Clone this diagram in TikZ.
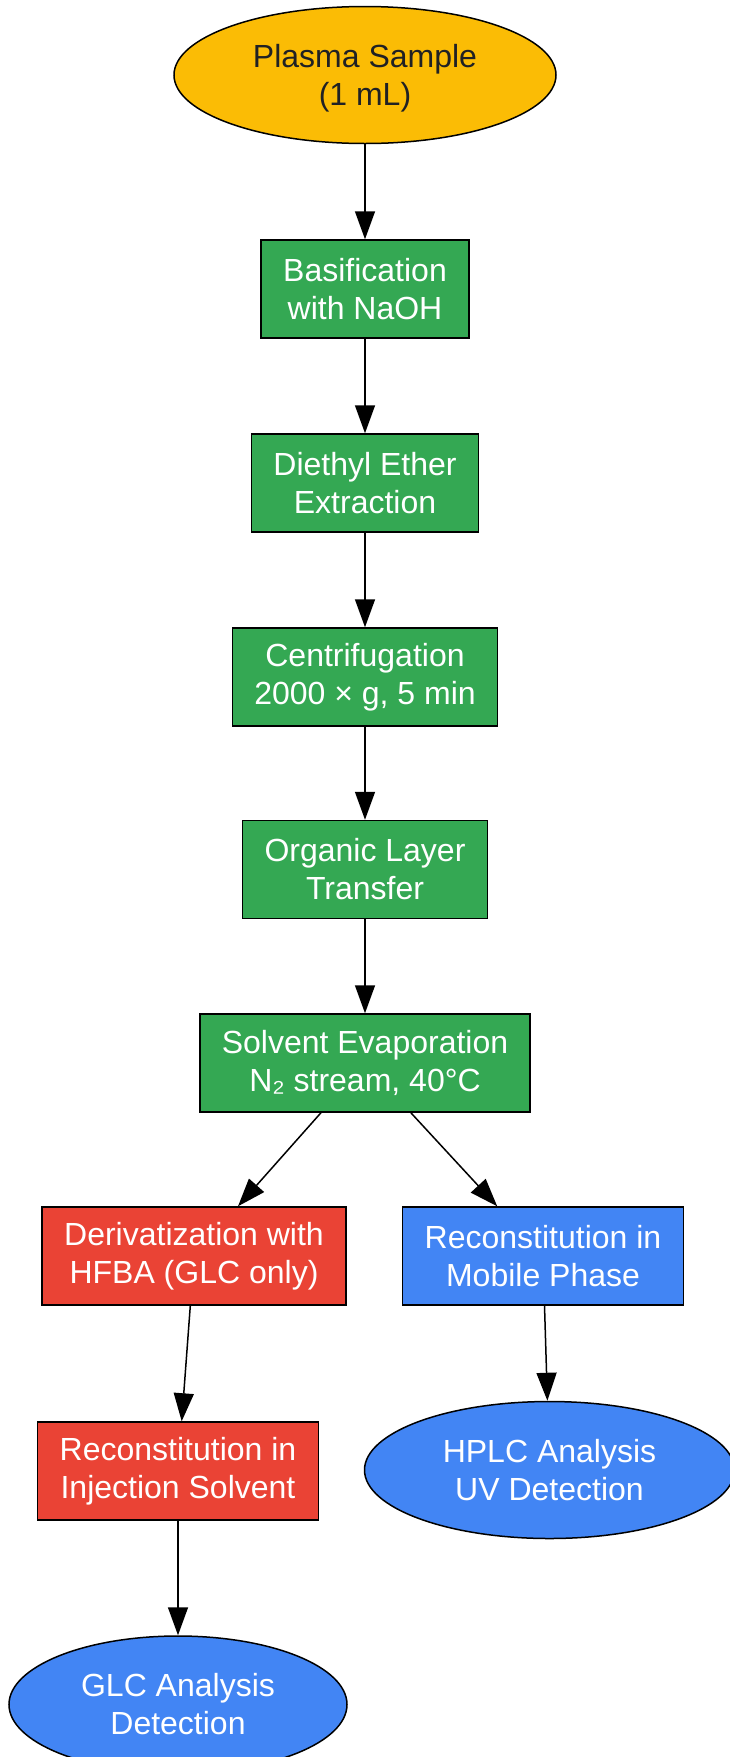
\documentclass[tikz,border=0pt]{standalone}
\usepackage{fontspec}
\setmainfont{Liberation Sans}
\usetikzlibrary{shapes.geometric, arrows.meta}
\definecolor{gyellow}{HTML}{FBBC05}
\definecolor{ggreen}{HTML}{34A853}
\definecolor{gred}{HTML}{EA4335}
\definecolor{gblue}{HTML}{4285F4}
\definecolor{gtext}{HTML}{202124}
\tikzset{
  basenode/.style = {draw=black, line width=1.5pt, align=center,
                     font=\fontsize{32}{38}\selectfont},
  procbox/.style  = {basenode, shape=rectangle, fill=ggreen, text=white,
                     inner xsep=22pt, minimum height=98pt},
  glcbox/.style   = {procbox, fill=gred},
  hplcbox/.style  = {procbox, fill=gblue},
  sample/.style   = {basenode, shape=ellipse, fill=gyellow, text=gtext,
                     minimum height=137pt},
  result/.style   = {basenode, shape=ellipse, fill=gblue, text=white,
                     minimum height=137pt}
}
\begin{document}
\begin{tikzpicture}
  [
  x = 1pt, y = -1pt,
  flow/.style = {draw, line width=1.5pt, -{Triangle[length=28pt, width=20pt]}}
  ]

\useasboundingbox (0,0) rectangle (730,1757);

% main line
\node[sample, minimum width=382pt] (plasma) at (365,75) {Plasma Sample\\\smash{(1 mL)}};
\node[procbox] (basif)   at (365,289)  {Basification\\with NaOH};
\node[procbox] (ether)   at (365,483)  {Diethyl Ether\\Extraction};
\node[procbox] (centri)  at (365,677)  {Centrifugation\\2000 × g, 5 min};
\node[procbox] (organic) at (365,869.5) {Organic Layer\\Transfer};
\node[procbox] (evap)    at (365,1063) {Solvent Evaporation\\N₂ stream, 40°C};

% GLC branch
\node[glcbox] (deriv)  at (194,1256) {Derivatization with\\HFBA (GLC only)};
\node[glcbox] (inject) at (178,1471) {Reconstitution in\\Injection Solvent};
\node[result, minimum width=338pt] (glc) at (178,1704.5) {GLC Analysis\\Detection};

% HPLC branch
\node[hplcbox] (mobile) at (543,1256) {Reconstitution in\\Mobile Phase};
\node[result, minimum width=370pt] (hplc) at (549.5,1470) {HPLC Analysis\\UV Detection};

\draw[flow] (plasma) -- (basif);
\draw[flow] (basif) -- (ether);
\draw[flow] (ether) -- (centri);
\draw[flow] (centri) -- (organic);
\draw[flow] (organic) -- (evap);
\draw[flow] (evap) -- (deriv);
\draw[flow] (evap) -- (mobile);
\draw[flow] (deriv) -- (inject);
\draw[flow] (inject) -- (glc);
\draw[flow] (mobile) -- (hplc);

\end{tikzpicture}
\end{document}
